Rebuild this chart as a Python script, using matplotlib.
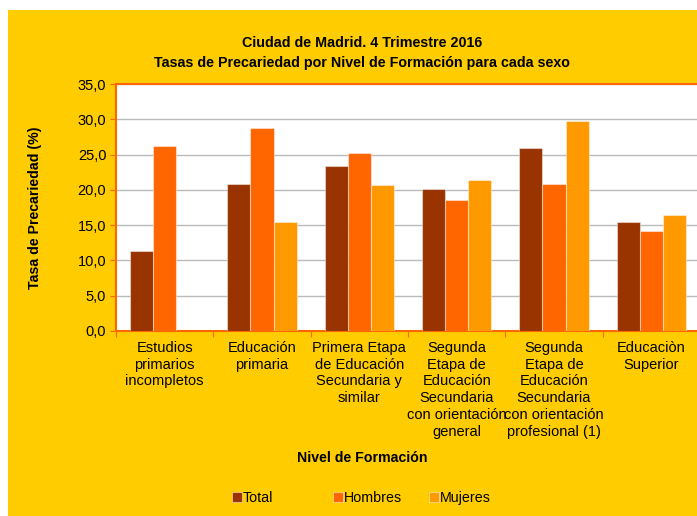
import matplotlib.pyplot as plt
import matplotlib.patches as mpatches
import numpy as np

plt.rcParams['font.family'] = ['Liberation Sans', 'DejaVu Sans']

categories = ['Estudios\nprimarios\nincompletos',
              'Educación\nprimaria',
              'Primera Etapa\nde Educación\nSecundaria y\nsimilar',
              'Segunda\nEtapa de\nEducación\nSecundaria\ncon orientación\ngeneral',
              'Segunda\nEtapa de\nEducación\nSecundaria\ncon orientación\nprofesional (1)',
              'Educaciòn\nSuperior']
total = [11.4, 20.8, 23.4, 20.1, 26.0, 15.5]
hombres = [26.2, 28.8, 25.2, 18.6, 20.8, 14.2]
mujeres = [np.nan, 15.5, 20.7, 21.4, 29.8, 16.4]

series = [('Total', total, '#993300'),
          ('Hombres', hombres, '#FF6600'),
          ('Mujeres', mujeres, '#FF9900')]

fig = plt.figure(figsize=(6.97, 5.16), dpi=100)
fig.patch.set_facecolor('white')
# yellow chart area
fig.patches.append(mpatches.Rectangle((8 / 697, 0), 1, 1 - 10 / 516,
                                      transform=fig.transFigure,
                                      facecolor='#FFCC00', edgecolor='none',
                                      zorder=-10))

ax = fig.add_axes([116 / 697, 185 / 516, 584 / 697, 247 / 516])
ax.set_zorder(5)
ax.set_facecolor('white')

x = np.arange(len(categories))
w = 0.237
bars = []
for i, (name, vals, col) in enumerate(series):
    b = ax.bar(x + (i - 1) * w, vals, w, color=col, label=name,
               edgecolor=(1, 1, 1, 0.45), linewidth=0.8, zorder=3)
    bars.append(b)

ax.set_xlim(-0.5, len(categories) - 0.5)
ax.set_ylim(0, 35)
ax.set_yticks(np.arange(0, 36, 5))
ax.set_yticklabels([f'{v:.1f}'.replace('.', ',') for v in np.arange(0, 36, 5)],
                   fontsize=10.5)
ax.yaxis.grid(True, color='#BBBBBB', linewidth=1, zorder=0)
ax.set_axisbelow(True)

ax.set_xticks(np.arange(len(categories) + 1) - 0.5, minor=False)
ax.set_xticklabels([])
ax.set_xticks(x, minor=True)
ax.set_xticklabels(categories, minor=True, fontsize=10.5, va='top',
                   linespacing=1.26)
ax.tick_params(axis='x', which='minor', length=0, pad=7)
ax.tick_params(axis='x', which='major', direction='out', length=4,
               color='#FF6600')
ax.tick_params(axis='y', direction='out', length=4, color='#FF6600', pad=3)

for s in ['left', 'top', 'bottom']:
    ax.spines[s].set_color('#FF6600')
    ax.spines[s].set_linewidth(1.5)
ax.spines['right'].set_visible(False)

ax.set_xlabel('Nivel de Formación', fontsize=10.2, fontweight='bold')
ax.xaxis.set_label_coords((362 - 116) / 584, -(451 - 331) / 247)
ax.set_ylabel('Tasa de Precariedad (%)', fontsize=10.2, fontweight='bold')
ax.yaxis.set_label_coords((42 - 116) / 584, 0.5)

fig.text(362 / 697, 1 - 43 / 516, 'Ciudad de Madrid. 4 Trimestre 2016',
         ha='center', va='center', fontsize=10.3, fontweight='bold')
fig.text(362 / 697, 1 - 63 / 516,
         'Tasas de Precariedad por Nivel de Formación para cada sexo',
         ha='center', va='center', fontsize=10.3, fontweight='bold')

# legend entries at fixed slots, like the original chart
for b, (name, _, _), lx in zip(bars, series, [230, 331, 427]):
    fig.legend([b], [name], loc='center left',
               bbox_to_anchor=(lx / 697 - 0.008, 1 - 498 / 516),
               frameon=False, fontsize=10.3, handlelength=0.75,
               handleheight=0.75, handletextpad=0.05, borderpad=0)

fig.savefig('out.png', dpi=100, facecolor=fig.get_facecolor())
